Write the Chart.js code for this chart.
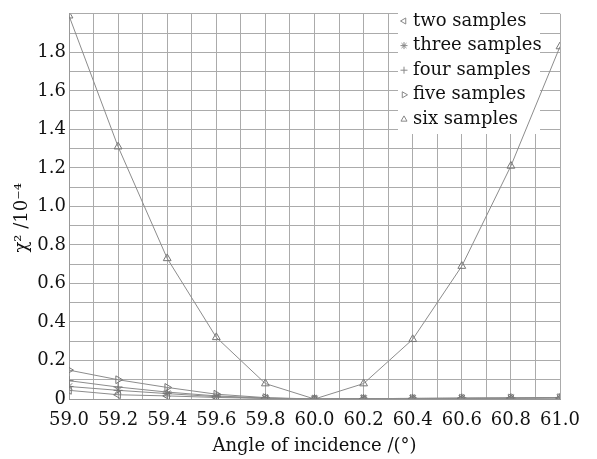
<!DOCTYPE html>
<html>
<head>
<meta charset="utf-8">
<script src="https://cdn.jsdelivr.net/npm/chart.js@4/dist/chart.umd.min.js"></script>
<style>
  html, body { margin: 0; padding: 0; background: #fff; }
  #wrap { width: 597px; height: 459px; }
</style>
</head>
<body>
<div id="wrap"><canvas id="chi"></canvas></div>
<script>
// angle of incidence, degrees
const angles = [59.0, 59.2, 59.4, 59.6, 59.8, 60.0, 60.2, 60.4, 60.6, 60.8, 61.0]

// chi^2 values (x 10^-4)
const twoSamples   = [0.045, 0.022, 0.016, 0.008, 0.003, 0.0, 0.001, 0.002, 0.003, 0.004, 0.005]
const threeSamples = [0.065, 0.045, 0.028, 0.012, 0.004, 0.0, 0.002, 0.003, 0.004, 0.005, 0.006]
const fourSamples  = [0.095, 0.062, 0.036, 0.016, 0.005, 0.0, 0.002, 0.003, 0.004, 0.005, 0.008]
const fiveSamples  = [0.15, 0.10, 0.06, 0.025, 0.007, 0.0, 0.002, 0.003, 0.004, 0.005, 0.007]
const sixSamples   = [1.99, 1.31, 0.73, 0.32, 0.08, 0.0, 0.08, 0.31, 0.69, 1.21, 1.83]

const seriesNames = ['two samples', 'three samples', 'four samples', 'five samples', 'six samples']
const seriesValues = [twoSamples, threeSamples, fourSamples, fiveSamples, sixSamples]
const markers = [
  {style: 'triangle', rot: -90},
  {style: 'star', rot: 0},
  {style: 'cross', rot: 0},
  {style: 'triangle', rot: 90},
  {style: 'triangle', rot: 0}
]

const FONT = '"DejaVu Serif", "Liberation Serif", serif'
const LINE = '#8c8c8c'
const GRID = '#ababab'
const TXT = '#111'

const datasets = seriesValues.map((vals, i) => ({
  label: seriesNames[i],
  data: vals.map((v, j) => ({x: angles[j], y: v})),
  borderColor: LINE,
  borderWidth: 1,
  pointStyle: markers[i].style,
  pointRotation: markers[i].rot,
  pointRadius: 4.5,
  pointBorderColor: '#777',
  pointBorderWidth: 1,
  pointBackgroundColor: 'rgba(0,0,0,0)',
  tension: 0
}))

// legend drawn inside the plot, with a white box that hides the grid behind it
const insideLegend = {
  id: 'insideLegend',
  beforeDatasetsDraw(chart) {
    const ctx = chart.ctx
    ctx.save()
    ctx.fillStyle = '#fff'
    ctx.fillRect(398, 8, 142, 126)
    ctx.textBaseline = 'middle'
    seriesNames.forEach((name, i) => {
      const y = 21 + i * 24.6
      ctx.strokeStyle = '#888'
      ctx.fillStyle = 'rgba(0,0,0,0)'
      ctx.lineWidth = 1
      Chart.helpers.drawPoint(ctx, {pointStyle: markers[i].style, rotation: markers[i].rot, radius: 3.5, borderWidth: 1}, 404, y)
      ctx.font = '18px ' + FONT
      ctx.fillStyle = TXT
      ctx.fillText(name, 413, y)
    })
    ctx.restore()
  }
}

new Chart(document.getElementById('chi'), {
  type: 'line',
  data: { datasets },
  options: {
    responsive: true,
    maintainAspectRatio: false,
    animation: false,
    layout: { padding: { top: 12, right: 37, left: 0, bottom: 0 } },
    plugins: { legend: { display: false }, tooltip: { enabled: false } },
    scales: {
      x: {
        type: 'linear',
        min: 59.0,
        max: 61.0,
        afterFit: (s) => { s.height = 60 },
        border: { color: '#999' },
        grid: { color: GRID, drawTicks: false },
        ticks: {
          stepSize: 0.1,
          autoSkip: false,
          maxRotation: 0,
          padding: 11,
          color: TXT,
          font: { family: FONT, size: 18 },
          callback: (v) => {
            const k = Math.round(v * 10)
            return k % 2 === 0 ? (k / 10).toFixed(1) : ''
          }
        },
        title: {
          display: true,
          text: 'Angle of incidence /(°)',
          color: TXT,
          font: { family: FONT, size: 18 },
          padding: { top: 0, bottom: 2 }
        }
      },
      y: {
        min: 0,
        max: 2.0,
        afterFit: (s) => { s.width = 69 },
        border: { color: '#999' },
        grid: { color: GRID, drawTicks: false },
        ticks: {
          stepSize: 0.1,
          autoSkip: false,
          padding: 3,
          color: TXT,
          font: { family: FONT, size: 18 },
          callback: (v) => {
            const k = Math.round(v * 10)
            if (k === 0) return '0'
            if (k >= 20) return ''
            return k % 2 === 0 ? (k / 10).toFixed(1) : ''
          }
        },
        title: {
          display: true,
          // trailing spaces nudge the rotated title a bit lower, like the original
          text: 'χ² /10⁻⁴    ',
          color: TXT,
          font: { family: FONT, size: 18 },
          padding: { top: 12, bottom: 0 }
        }
      }
    }
  },
  plugins: [insideLegend]
})
</script>
</body>
</html>
